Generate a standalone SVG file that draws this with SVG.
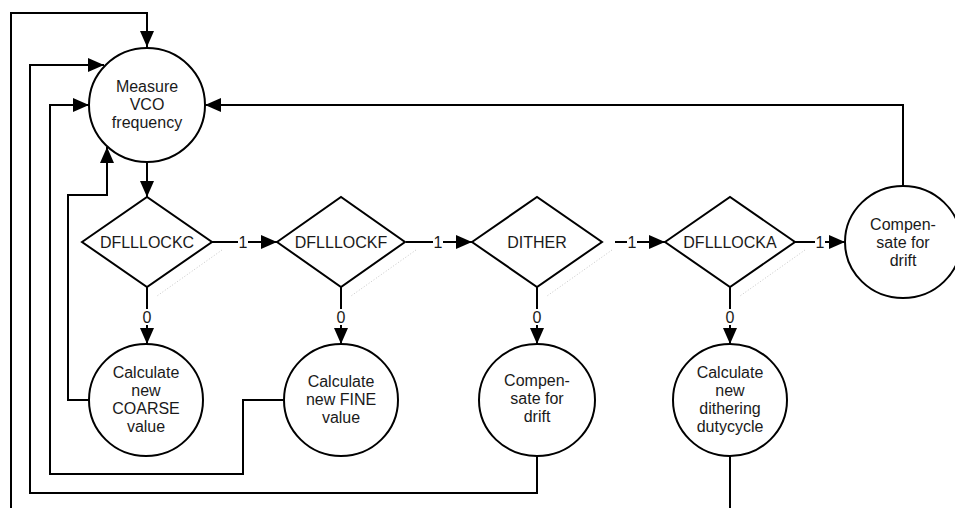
<svg xmlns="http://www.w3.org/2000/svg" width="955" height="508" viewBox="0 0 955 508">
<style>
.n{fill:#fff;stroke:#000;stroke-width:2}
.c{fill:none;stroke:#000;stroke-width:2}
.sh{fill:none;stroke:#c8c8c8;stroke-width:1;stroke-dasharray:1 2}
text{font-family:"Liberation Sans",Arial,sans-serif;font-size:16px;fill:#1a1a1a;text-anchor:middle}
.l{font-size:16px}
.bg{fill:#fff;stroke:none}
</style>
<defs>
<marker id="ah" markerWidth="16" markerHeight="14" refX="16" refY="7" orient="auto" markerUnits="userSpaceOnUse">
<path d="M0,0 L16,7 L0,14 z" fill="#000"/>
</marker>
</defs>
<rect width="955" height="508" fill="#fff"/>
<g id="shadows">
<path class="sh" d="M222,250 L157,296"/>
<path class="sh" d="M416,250 L351,296"/>
<path class="sh" d="M612,250 L547,296"/>
<path class="sh" d="M805,250 L740,296"/>
</g>
<g id="connectors">
<path class="c" d="M11,508 V13 H147 V47" marker-end="url(#ah)"/>
<path class="c" d="M537,456 V493 H30 V65 H104" marker-end="url(#ah)"/>
<path class="c" d="M283,400 H243 V474 H50 V105 H89" marker-end="url(#ah)"/>
<path class="c" d="M89,400 H68 V195 H107 V147" marker-end="url(#ah)"/>
<path class="c" d="M903,186 V105 H205" marker-end="url(#ah)"/>
<path class="c" d="M147,162 V197" marker-end="url(#ah)"/>
<path class="c" d="M212,242 H277" marker-end="url(#ah)"/>
<path class="c" d="M406,242 H472" marker-end="url(#ah)"/>
<path class="c" d="M615,242 H665" marker-end="url(#ah)"/>
<path class="c" d="M795,242 H845" marker-end="url(#ah)"/>
<path class="c" d="M147,287 V344" marker-end="url(#ah)"/>
<path class="c" d="M341,287 V344" marker-end="url(#ah)"/>
<path class="c" d="M537,287 V344" marker-end="url(#ah)"/>
<path class="c" d="M730,287 V344" marker-end="url(#ah)"/>
<path class="c" d="M730,456 V508"/>
<rect class="bg" x="238" y="233" width="10" height="17"/>
<text class="l" x="243" y="248">1</text>
<rect class="bg" x="433" y="233" width="10" height="17"/>
<text class="l" x="438" y="248">1</text>
<rect class="bg" x="627" y="233" width="10" height="17"/>
<text class="l" x="632" y="248">1</text>
<rect class="bg" x="815" y="233" width="10" height="17"/>
<text class="l" x="820" y="248">1</text>
<rect class="bg" x="141" y="309" width="12" height="16"/>
<text class="l" x="147" y="323">0</text>
<rect class="bg" x="335" y="309" width="12" height="16"/>
<text class="l" x="341" y="323">0</text>
<rect class="bg" x="531" y="309" width="12" height="16"/>
<text class="l" x="537" y="323">0</text>
<rect class="bg" x="724" y="309" width="12" height="16"/>
<text class="l" x="730" y="323">0</text>
</g>
<g id="measure">
<ellipse class="n" cx="147" cy="105" rx="58" ry="57"/>
<text x="147" y="92">Measure</text>
<text x="147" y="110">VCO</text>
<text x="147" y="128">frequency</text>
</g>
<g id="dfllockc">
<path class="n" d="M82,242 L147,197 L212,242 L147,287 Z"/>
<text x="147" y="248">DFLLLOCKC</text>
</g>
<g id="dfllockf">
<path class="n" d="M277,242 L341,197 L405,242 L341,287 Z"/>
<text x="341" y="248">DFLLLOCKF</text>
</g>
<g id="dither">
<path class="n" d="M472,242 L537,197 L602,242 L537,287 Z"/>
<text x="537" y="248">DITHER</text>
</g>
<g id="dfllocka">
<path class="n" d="M665,242 L730,197 L795,242 L730,287 Z"/>
<text x="730" y="248">DFLLLOCKA</text>
</g>
<g id="compensate-right">
<ellipse class="n" cx="903" cy="242" rx="58" ry="56"/>
<text x="903" y="230">Compen-</text>
<text x="903" y="248">sate for</text>
<text x="903" y="266">drift</text>
</g>
<g id="coarse">
<ellipse class="n" cx="146" cy="400" rx="57" ry="56"/>
<text x="146" y="378">Calculate</text>
<text x="146" y="396">new</text>
<text x="146" y="414">COARSE</text>
<text x="146" y="432">value</text>
</g>
<g id="fine">
<ellipse class="n" cx="341" cy="400" rx="57" ry="56"/>
<text x="341" y="387">Calculate</text>
<text x="341" y="405">new FINE</text>
<text x="341" y="423">value</text>
</g>
<g id="compensate-dither">
<ellipse class="n" cx="537" cy="400" rx="58" ry="56"/>
<text x="537" y="386">Compen-</text>
<text x="537" y="404">sate for</text>
<text x="537" y="422">drift</text>
</g>
<g id="dithering">
<ellipse class="n" cx="730" cy="400" rx="57" ry="56"/>
<text x="730" y="378">Calculate</text>
<text x="730" y="396">new</text>
<text x="730" y="414">dithering</text>
<text x="730" y="432">dutycycle</text>
</g>
</svg>
